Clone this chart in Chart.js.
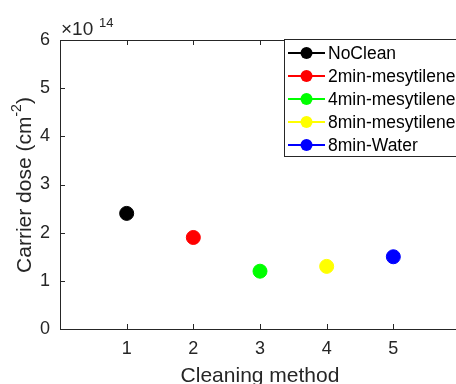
<!DOCTYPE html>
<html lang="en">
<head>
    <meta charset="UTF-8">
    <title>Carrier dose</title>
    <script src="https://cdn.jsdelivr.net/npm/chart.js"></script>
    <style>
        body { margin: 0; overflow: hidden; background: #fff; }
        .box { width: 470px; height: 384px; }
    </style>
</head>
<body>
    <div class="box">
        <canvas id="myChart" width="470" height="384"></canvas>
    </div>

<script>
    // values in units of 1e14 cm^-2
    var metodos = [1, 2, 3, 4, 5]
    var doses = [2.4, 1.9, 1.2, 1.3, 1.5]
    var nomes = ['NoClean', '2min-mesytilene', '4min-mesytilene', '8min-mesytilene', '8min-Water']
    var cores = ['#000000', '#ff0000', '#00ff00', '#ffff00', '#0000ff']
    var ticksX = [1, 2, 3, 4, 5]

    var fonte = '"Liberation Sans", Arial, sans-serif'
    var corEixo = '#262626'

    var datasets = []
    for (var c = 0; c < metodos.length; c++) {
        datasets.push({
            label: nomes[c],
            data: [{ x: metodos[c], y: doses[c] }],
            backgroundColor: cores[c],
            borderColor: cores[c],
            pointRadius: 7,
            pointHoverRadius: 7
        })
    }

    // axes box with inward ticks, titles, exponent and legend
    const extras = {
        id: 'extras',
        afterDraw(chart) {
            const ctx = chart.ctx
            const a = chart.chartArea
            const sx = chart.scales.x
            const sy = chart.scales.y
            ctx.save()
            ctx.strokeStyle = corEixo
            ctx.lineWidth = 1
            ctx.beginPath()
            ctx.moveTo(a.left + 0.5, a.top + 0.5)
            ctx.lineTo(a.left + 0.5, a.bottom + 0.5)
            ctx.lineTo(a.right, a.bottom + 0.5)
            ctx.moveTo(a.left, a.top + 0.5)
            ctx.lineTo(a.right, a.top + 0.5)
            for (var i = 0; i <= 6; i++) {
                var px = Math.round(sx.getPixelForValue(i)) + 0.5
                ctx.moveTo(px, a.bottom); ctx.lineTo(px, a.bottom - 5)
                ctx.moveTo(px, a.top); ctx.lineTo(px, a.top + 5)
                var py = Math.round(sy.getPixelForValue(i)) + 0.5
                ctx.moveTo(a.left, py); ctx.lineTo(a.left + 5, py)
            }
            ctx.stroke()

            // exponent
            ctx.fillStyle = corEixo
            ctx.textBaseline = 'alphabetic'
            ctx.textAlign = 'left'
            ctx.font = '19px ' + fonte
            ctx.fillText('\u00d710', 61, 35)
            ctx.font = '13px ' + fonte
            ctx.fillText('14', 99, 27)

            // x title
            ctx.font = '21px ' + fonte
            ctx.textAlign = 'center'
            ctx.textBaseline = 'middle'
            ctx.fillText('Cleaning method', (a.left + 460) / 2, 376)

            // y title with superscript
            ctx.save()
            ctx.translate(23, 185)
            ctx.rotate(-Math.PI / 2)
            var t1 = 'Carrier dose (cm'
            var t2 = '-2'
            var t3 = ')'
            ctx.font = '21px ' + fonte
            var w1 = ctx.measureText(t1).width
            var w3 = ctx.measureText(t3).width
            ctx.font = '14px ' + fonte
            var w2 = ctx.measureText(t2).width
            var x0 = -(w1 + w2 + w3) / 2
            ctx.textAlign = 'left'
            ctx.textBaseline = 'alphabetic'
            ctx.font = '21px ' + fonte
            ctx.fillText(t1, x0, 8)
            ctx.font = '14px ' + fonte
            ctx.fillText(t2, x0 + w1, -2)
            ctx.font = '21px ' + fonte
            ctx.fillText(t3, x0 + w1 + w2, 8)
            ctx.restore()

            // legend
            var lx = 284, ly = 39
            ctx.fillStyle = '#fff'
            ctx.fillRect(lx, ly, 190, 117)
            ctx.strokeStyle = corEixo
            ctx.strokeRect(lx + 0.5, ly + 0.5, 190, 117)
            chart.data.datasets.forEach(function (ds, k) {
                var yy = 53 + 23 * k
                ctx.strokeStyle = ds.borderColor
                ctx.lineWidth = 2
                ctx.beginPath()
                ctx.moveTo(288, yy); ctx.lineTo(325, yy)
                ctx.stroke()
                ctx.fillStyle = ds.backgroundColor
                ctx.beginPath()
                ctx.arc(306.5, yy, 6, 0, Math.PI * 2)
                ctx.fill()
                ctx.fillStyle = '#000'
                ctx.font = '17.5px ' + fonte
                ctx.textAlign = 'left'
                ctx.textBaseline = 'middle'
                ctx.fillText(ds.label, 328, yy + 1)
            })
            ctx.restore()
        }
    }

    const myChart = new Chart(document.getElementById('myChart'), {
        type: 'scatter',
        data: { datasets: datasets },
        options: {
            responsive: false,
            animation: false,
            layout: { padding: { top: 40, right: 10, left: 0, bottom: 0 } },
            plugins: { legend: { display: false }, tooltip: { enabled: false } },
            scales: {
                x: {
                    min: 0, max: 6,
                    afterBuildTicks: function (s) { s.ticks = ticksX.map(function (v) { return { value: v } }) },
                    afterFit: function (s) { s.height = 55 },
                    grid: { display: false, drawTicks: false },
                    border: { display: false },
                    ticks: { color: corEixo, font: { size: 18, family: fonte }, padding: 9, maxRotation: 0 }
                },
                y: {
                    min: 0, max: 6,
                    afterFit: function (s) { s.width = 60 },
                    grid: { display: false, drawTicks: false },
                    border: { display: false },
                    ticks: { stepSize: 1, color: corEixo, font: { size: 18, family: fonte }, padding: 10 }
                }
            }
        },
        plugins: [extras]
    })
</script>
</body>
</html>
